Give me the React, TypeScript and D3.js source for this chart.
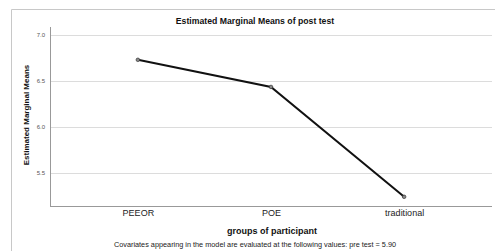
import React, { useRef, useEffect } from 'react';
import * as d3 from 'd3';

const groups = ['PEEOR', 'POE', 'traditional'];
const means = [6.73, 6.435, 5.24];
const yTicks = [5.5, 6.0, 6.5, 7.0];

const W = 495;
const H = 251;

const App = () => {
  const ref = useRef<SVGSVGElement>(null);

  useEffect(() => {
    const svg = d3.select(ref.current);
    svg.selectAll('*').remove();

    const margin = { top: 27, right: 3, bottom: 45, left: 50 };
    const innerW = W - margin.left - margin.right;
    const innerH = H - margin.top - margin.bottom;
    const font = 'Arial, "Liberation Sans", sans-serif';

    svg.append('rect').attr('width', W).attr('height', H).attr('fill', '#fff');

    // outer frame (cut off at right and bottom)
    svg.append('path')
      .attr('d', `M11.5,${H + 2} V9.5 H${W + 2}`)
      .attr('fill', 'none')
      .attr('stroke', '#c8c8c8')
      .attr('stroke-width', 1);

    const g = svg.append('g').attr('transform', `translate(${margin.left},${margin.top})`);

    const x = d3.scalePoint<string>().domain(groups).range([0, innerW]).padding(0.66);
    const y = d3.scaleLinear().domain([5.14, 7.087]).range([innerH, 0]);

    // gridlines
    g.selectAll('.grid')
      .data(yTicks)
      .enter()
      .append('line')
      .attr('x1', 0)
      .attr('x2', innerW)
      .attr('y1', d => Math.round(y(d)) + 0.5)
      .attr('y2', d => Math.round(y(d)) + 0.5)
      .attr('stroke', '#dcdcdc')
      .attr('stroke-width', 1);

    // axes
    const yAxis = g.append('g').call(d3.axisLeft(y).tickValues(yTicks).tickSize(0).tickPadding(5).tickFormat(d3.format('.1f')));
    yAxis.select('.domain').remove();
    yAxis.selectAll('text').attr('fill', '#555').style('font', `6px ${font}`);

    g.append('line')
      .attr('x1', 0.5).attr('x2', 0.5)
      .attr('y1', 0).attr('y2', innerH)
      .attr('stroke', '#999');
    g.append('line')
      .attr('x1', 0).attr('x2', innerW)
      .attr('y1', innerH + 0.5).attr('y2', innerH + 0.5)
      .attr('stroke', '#999');

    const xAxis = g.append('g')
      .attr('transform', `translate(0,${innerH})`)
      .call(d3.axisBottom(x).tickSize(0).tickPadding(4));
    xAxis.select('.domain').remove();
    xAxis.selectAll('text').attr('fill', '#222').style('font', `9px ${font}`);

    // line
    const line = d3.line<number>()
      .x((_, i) => x(groups[i]) as number)
      .y(d => y(d));
    g.append('path')
      .datum(means)
      .attr('fill', 'none')
      .attr('stroke', '#111')
      .attr('stroke-width', 2)
      .attr('d', line);

    g.selectAll('.pt')
      .data(means)
      .enter()
      .append('circle')
      .attr('cx', (_, i) => x(groups[i]) as number)
      .attr('cy', d => y(d))
      .attr('r', 1.8)
      .attr('fill', '#888')
      .attr('stroke', '#333')
      .attr('stroke-width', 0.7);

    // titles
    svg.append('text')
      .attr('x', 255).attr('y', 24)
      .attr('text-anchor', 'middle')
      .style('font', `bold 8.7px ${font}`)
      .attr('fill', '#111')
      .text('Estimated Marginal Means of post test');

    svg.append('text')
      .attr('transform', `translate(29,115) rotate(-90)`)
      .attr('text-anchor', 'middle')
      .style('font', `bold 8px ${font}`)
      .attr('fill', '#111')
      .text('Estimated Marginal Means');

    svg.append('text')
      .attr('x', 272).attr('y', 234)
      .attr('text-anchor', 'middle')
      .style('font', `bold 9px ${font}`)
      .attr('fill', '#111')
      .text('groups of participant');

    svg.append('text')
      .attr('x', 255).attr('y', 247)
      .attr('text-anchor', 'middle')
      .style('font', `7.3px ${font}`)
      .attr('fill', '#222')
      .text('Covariates appearing in the model are evaluated at the following values: pre test = 5.90');
  }, []);

  return (
    <svg
      ref={ref}
      width={W}
      height={H}
      style={{ position: 'absolute', left: 0, top: 0 }}
    />
  );
};

export default App;
